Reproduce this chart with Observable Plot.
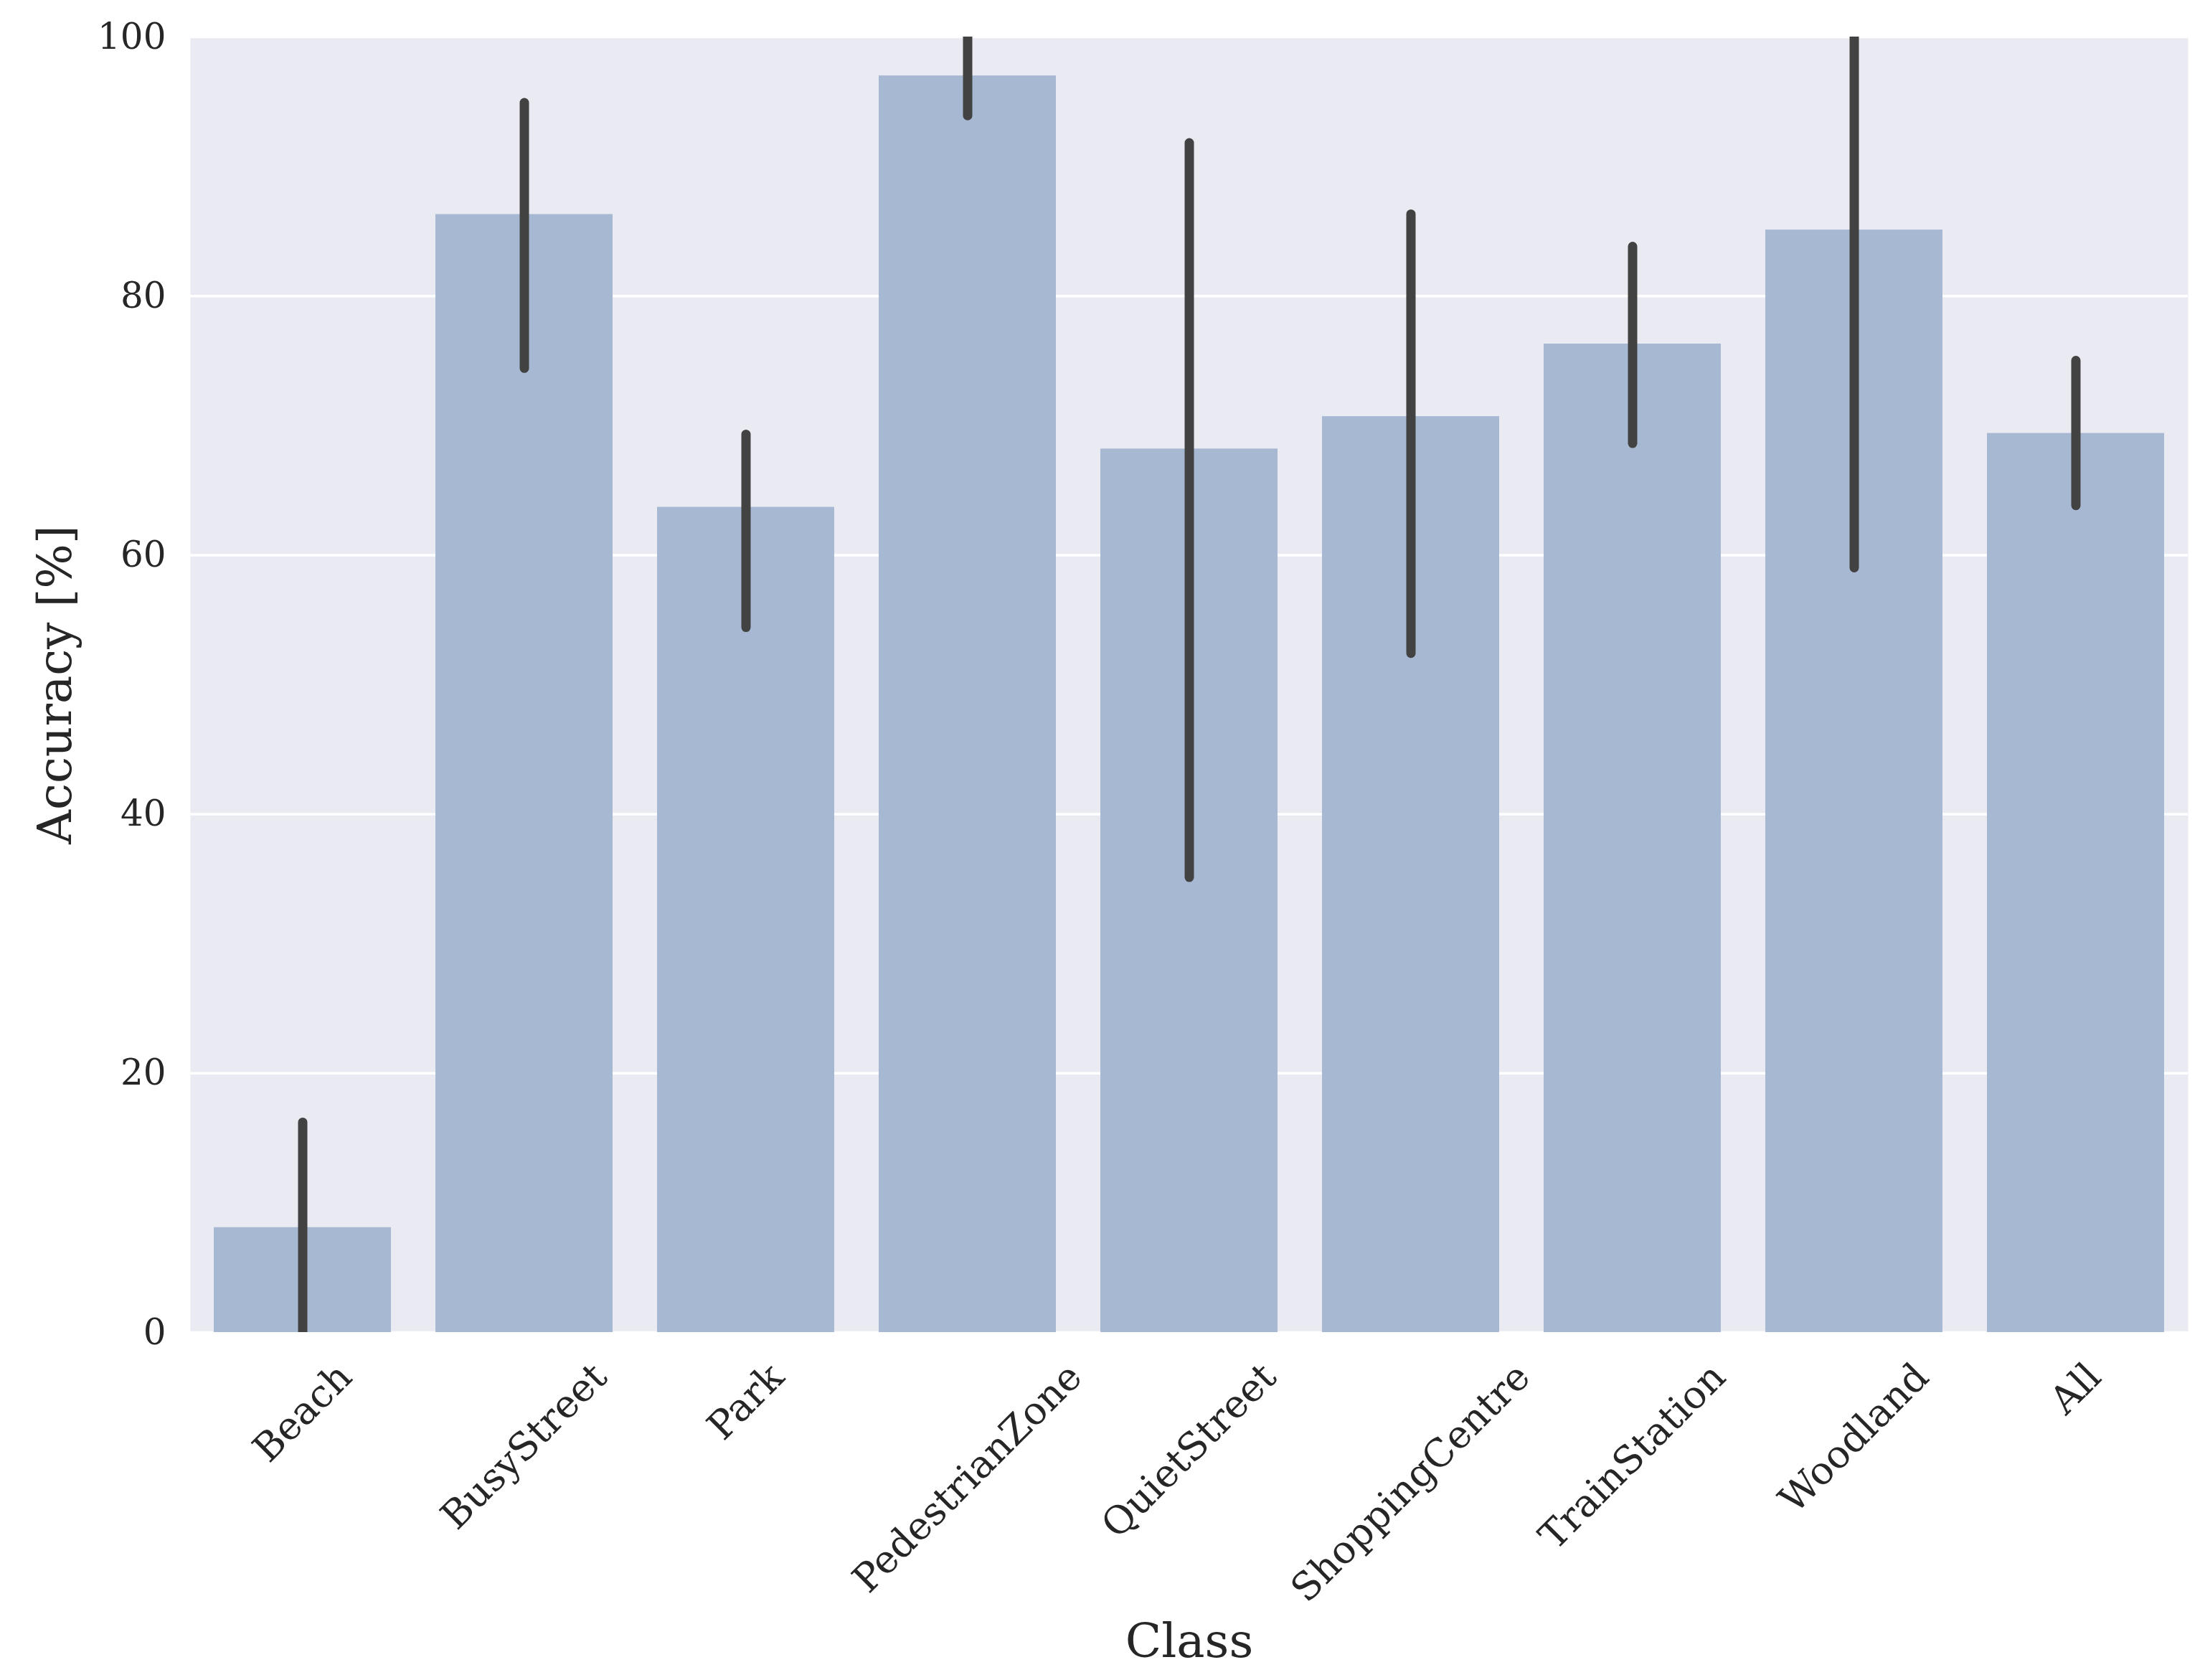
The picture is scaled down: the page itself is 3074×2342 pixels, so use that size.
<!DOCTYPE html>
<html>
<head>
<meta charset="utf-8">
<script src="https://cdn.jsdelivr.net/npm/d3@7"></script>
<script src="https://cdn.jsdelivr.net/npm/@observablehq/plot@0.6"></script>
<style>
  html, body { margin: 0; padding: 0; background: #ffffff; }
  #chart svg { display: block; }
</style>
</head>
<body>
<div id="chart"></div>
<script>
const categories = ["Beach", "BusyStreet", "Park", "PedestrianZone", "QuietStreet", "ShoppingCentre", "TrainStation", "Woodland", "All"];
const accuracy = [8.1, 86.3, 63.7, 97.0, 68.2, 70.7, 76.3, 85.1, 69.4];
const ciLow = [0.0, 74.4, 54.4, 93.9, 35.1, 52.4, 68.6, 59.0, 63.8];
const ciHigh = [16.2, 94.9, 69.3, 101.0, 91.8, 86.3, 83.8, 112.0, 75.0];
const yTicks = [0, 20, 40, 60, 80, 100];
const xLabel = "Class";
const yLabel = "Accuracy [%]";

const rows = categories.map((c, i) => ({cls: c, acc: accuracy[i], lo: ciLow[i], hi: ciHigh[i]}));

const FONT = "'DejaVu Serif', serif";
const tickSize = 50;
const xTickSize = 53.5;
const labelSize = 66;
const textColor = "#262626";

// measure tick label widths for matplotlib-like centred 45° rotated labels
const ctx = document.createElement("canvas").getContext("2d");
ctx.font = `${xTickSize}px 'DejaVu Serif'`;
const lineH = xTickSize * 1.17;
const pad = 31;

const W = 3074, H = 2342;
const mL = 265, mR = 24, mT = 51, mB = 485;

const tickLabelMarks = categories.map(c => {
  const w = ctx.measureText(c).width;
  const off = pad + (w + lineH) / (2 * Math.SQRT2);
  return Plot.text([c], {
    x: d => d,
    frameAnchor: "bottom",
    dy: off,
    rotate: -45,
    textAnchor: "middle",
    lineAnchor: "middle",
    fontSize: xTickSize,
    fill: textColor
  });
});

const chart = Plot.plot({
  width: W,
  height: H,
  marginLeft: mL,
  marginRight: mR,
  marginTop: mT,
  marginBottom: mB,
  style: {fontFamily: FONT, color: textColor, background: "#ffffff"},
  x: {domain: categories, paddingInner: 0.2, paddingOuter: 0.1, axis: null},
  y: {domain: [0, 100], axis: null},
  marks: [
    Plot.frame({fill: "#EAEAF2", stroke: null}),
    Plot.gridY(yTicks, {stroke: "#ffffff", strokeOpacity: 1, strokeWidth: 3.5}),
    Plot.barY(rows, {x: "cls", y: "acc", fill: "#a7b8d3"}),
    Plot.ruleX(rows, {x: "cls", y1: "lo", y2: "hi", stroke: "#424242", strokeWidth: 13, strokeLinecap: "round", clip: true}),
    Plot.axisY(yTicks, {tickSize: 0, tickPadding: 34, fontSize: tickSize, fill: textColor, label: null, tickFormat: d => String(d)}),
    ...tickLabelMarks,
    Plot.text([xLabel], {frameAnchor: "bottom", dy: 431, fontSize: labelSize, fill: textColor, lineAnchor: "middle"}),
    Plot.text([yLabel], {frameAnchor: "left", dx: -188, rotate: -90, fontSize: labelSize, fill: textColor, lineAnchor: "middle", textAnchor: "middle"})
  ]
});
document.getElementById("chart").appendChild(chart);
</script>
</body>
</html>
